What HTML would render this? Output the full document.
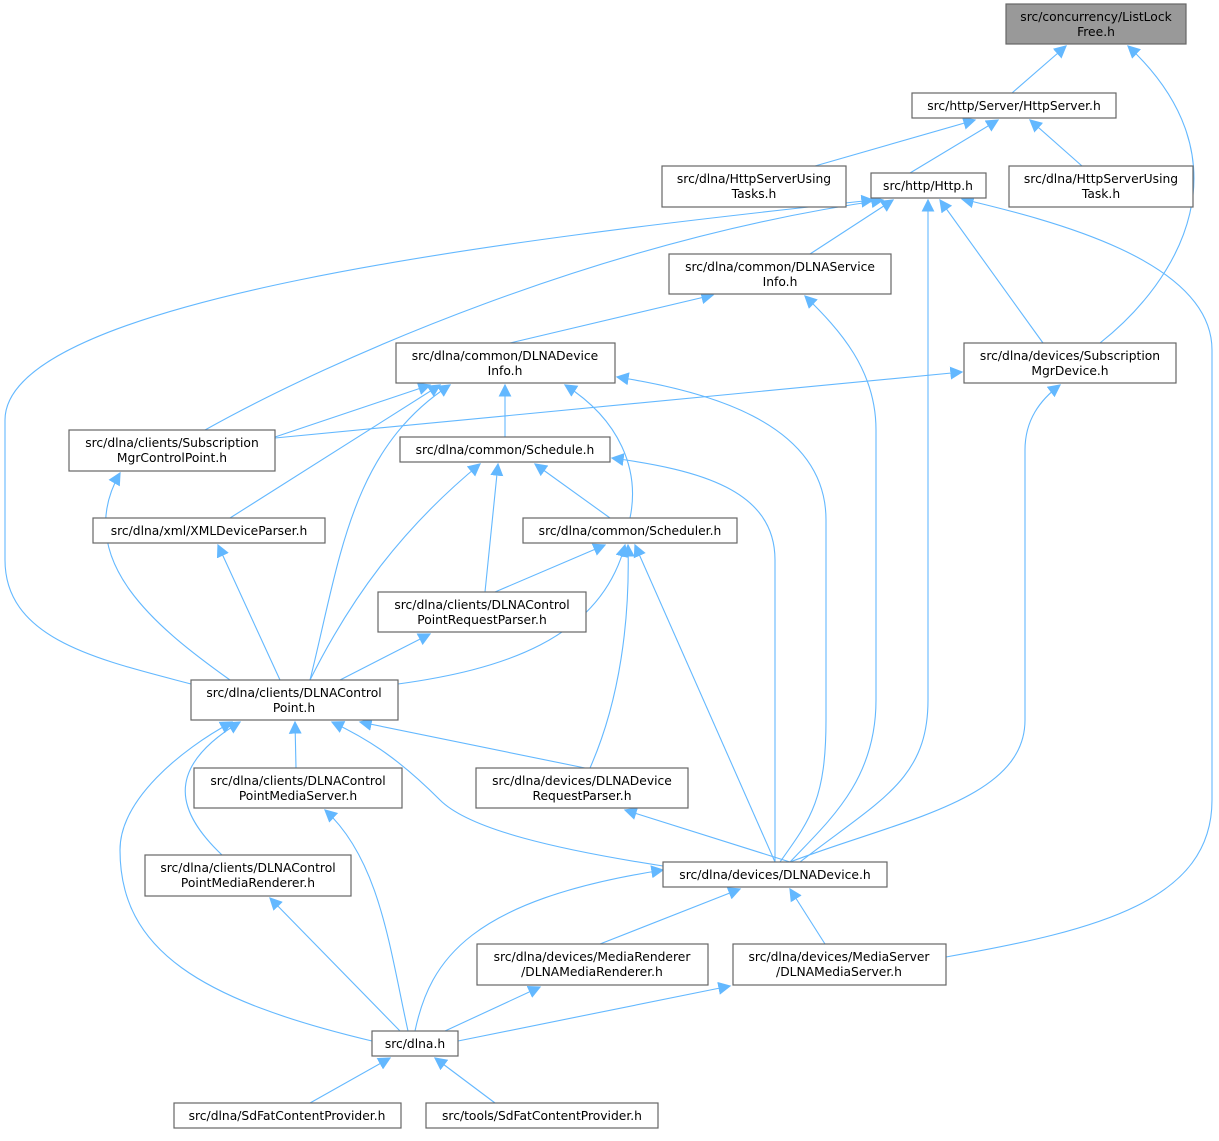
<!DOCTYPE html>
<html><head><meta charset="utf-8"><style>
html,body{margin:0;padding:0;background:#fff;}
svg text{font-family:"DejaVu Sans","Liberation Sans",sans-serif;font-size:12.3px;fill:#000;text-anchor:middle;}
.b{fill:#fff;stroke:#666;stroke-width:1.2;}
.e{fill:none;stroke:#63b8ff;stroke-width:1.1;}
</style></head><body>
<svg width="1219" height="1136" viewBox="0 0 1219 1136" xmlns="http://www.w3.org/2000/svg">
<defs><marker id="a" viewBox="0 0 10 10" refX="9" refY="5" markerWidth="13" markerHeight="13" markerUnits="userSpaceOnUse" orient="auto"><path d="M0,0L10,5L0,10z" fill="#63b8ff"/></marker></defs>
<g class="e" marker-end="url(#a)">
<path d="M1012,93L1066,46"/>
<path d="M1100,343C1180,280 1250,160 1128,46"/>
<path d="M815,166L975,120"/>
<path d="M910,173L998,120"/>
<path d="M1082,166L1030,120"/>
<path d="M810,254L893,200"/>
<path d="M205,430C330,360 600,240 883,200"/>
<path d="M191,684C100,660 5,640 5,560L5,420C5,300 500,240 873,200"/>
<path d="M1043,343L940,200"/>
<path d="M800,862C880,800 928,780 928,700L928,200"/>
<path d="M946,957C1100,930 1212,900 1212,800L1212,350C1212,260 1050,220 962,199"/>
<path d="M510,343L713,295"/>
<path d="M790,862C830,820 876,780 876,700L876,430C876,370 840,330 805,296"/>
<path d="M275,437L430,385"/>
<path d="M230,518L440,385"/>
<path d="M310,680C340,560 350,450 450,385"/>
<path d="M505,437L505,385"/>
<path d="M630,518C640,470 620,420 565,385"/>
<path d="M780,862C810,820 826,800 826,720L826,520C826,420 700,390 617,377"/>
<path d="M275,438L962,372"/>
<path d="M790,862C900,820 1025,800 1025,720L1025,450C1025,420 1040,400 1060,385"/>
<path d="M230,680C160,630 70,560 120,473"/>
<path d="M610,518L535,464"/>
<path d="M485,592L498,464"/>
<path d="M310,680C350,600 400,530 480,464"/>
<path d="M775,862L775,560C775,490 700,470 612,458"/>
<path d="M280,680L218,545"/>
<path d="M495,592L605,545"/>
<path d="M398,684C500,670 600,640 625,545"/>
<path d="M590,768C620,700 630,620 628,545"/>
<path d="M775,862L635,545"/>
<path d="M340,680L430,634"/>
<path d="M296,768L295,722"/>
<path d="M585,768L360,722"/>
<path d="M663,866C560,850 470,830 440,800C400,760 370,740 332,722"/>
<path d="M222,855C180,815 160,770 240,722"/>
<path d="M372,1041C200,1000 120,950 120,850C120,800 180,750 232,722"/>
<path d="M408,1031C390,950 380,860 325,810"/>
<path d="M400,1031L270,898"/>
<path d="M790,862L625,810"/>
<path d="M415,1031C430,960 470,900 663,870"/>
<path d="M600,944L740,889"/>
<path d="M825,944L790,889"/>
<path d="M445,1031L540,987"/>
<path d="M458,1041L730,986"/>
<path d="M310,1103L390,1058"/>
<path d="M495,1103L435,1058"/>
</g>
<rect x="1006" y="4" width="180" height="40" fill="#999" stroke="#666" stroke-width="1.2"/>
<text x="1096" y="21">src/concurrency/ListLock</text><text x="1096" y="36">Free.h</text>
<rect class="b" x="912" y="93" width="204" height="25"/><text x="1014" y="110">src/http/Server/HttpServer.h</text>
<rect class="b" x="662" y="166" width="184" height="41"/><text x="754" y="183">src/dlna/HttpServerUsing</text><text x="754" y="198">Tasks.h</text>
<rect class="b" x="871" y="173" width="115" height="25"/><text x="928" y="190">src/http/Http.h</text>
<rect class="b" x="1009" y="166" width="184" height="41"/><text x="1101" y="183">src/dlna/HttpServerUsing</text><text x="1101" y="198">Task.h</text>
<rect class="b" x="669" y="254" width="222" height="40"/><text x="780" y="271">src/dlna/common/DLNAService</text><text x="780" y="286">Info.h</text>
<rect class="b" x="396" y="343" width="219" height="40"/><text x="505" y="360">src/dlna/common/DLNADevice</text><text x="505" y="375">Info.h</text>
<rect class="b" x="964" y="343" width="212" height="40"/><text x="1070" y="360">src/dlna/devices/Subscription</text><text x="1070" y="375">MgrDevice.h</text>
<rect class="b" x="69" y="430" width="206" height="41"/><text x="172" y="447">src/dlna/clients/Subscription</text><text x="172" y="462">MgrControlPoint.h</text>
<rect class="b" x="400" y="437" width="210" height="25"/><text x="505" y="454">src/dlna/common/Schedule.h</text>
<rect class="b" x="93" y="518" width="232" height="25"/><text x="209" y="535">src/dlna/xml/XMLDeviceParser.h</text>
<rect class="b" x="523" y="518" width="214" height="25"/><text x="630" y="535">src/dlna/common/Scheduler.h</text>
<rect class="b" x="378" y="592" width="208" height="40"/><text x="482" y="609">src/dlna/clients/DLNAControl</text><text x="482" y="624">PointRequestParser.h</text>
<rect class="b" x="191" y="680" width="207" height="40"/><text x="294" y="697">src/dlna/clients/DLNAControl</text><text x="294" y="712">Point.h</text>
<rect class="b" x="194" y="768" width="208" height="40"/><text x="298" y="785">src/dlna/clients/DLNAControl</text><text x="298" y="800">PointMediaServer.h</text>
<rect class="b" x="476" y="768" width="212" height="40"/><text x="582" y="785">src/dlna/devices/DLNADevice</text><text x="582" y="800">RequestParser.h</text>
<rect class="b" x="145" y="855" width="206" height="41"/><text x="248" y="872">src/dlna/clients/DLNAControl</text><text x="248" y="887">PointMediaRenderer.h</text>
<rect class="b" x="663" y="862" width="224" height="25"/><text x="775" y="879">src/dlna/devices/DLNADevice.h</text>
<rect class="b" x="477" y="944" width="231" height="41"/><text x="592" y="961">src/dlna/devices/MediaRenderer</text><text x="592" y="976">/DLNAMediaRenderer.h</text>
<rect class="b" x="733" y="944" width="213" height="41"/><text x="839" y="961">src/dlna/devices/MediaServer</text><text x="839" y="976">/DLNAMediaServer.h</text>
<rect class="b" x="372" y="1031" width="86" height="25"/><text x="415" y="1048">src/dlna.h</text>
<rect class="b" x="174" y="1103" width="227" height="25"/><text x="287" y="1120">src/dlna/SdFatContentProvider.h</text>
<rect class="b" x="426" y="1103" width="232" height="25"/><text x="542" y="1120">src/tools/SdFatContentProvider.h</text>
</svg>
</body></html>
